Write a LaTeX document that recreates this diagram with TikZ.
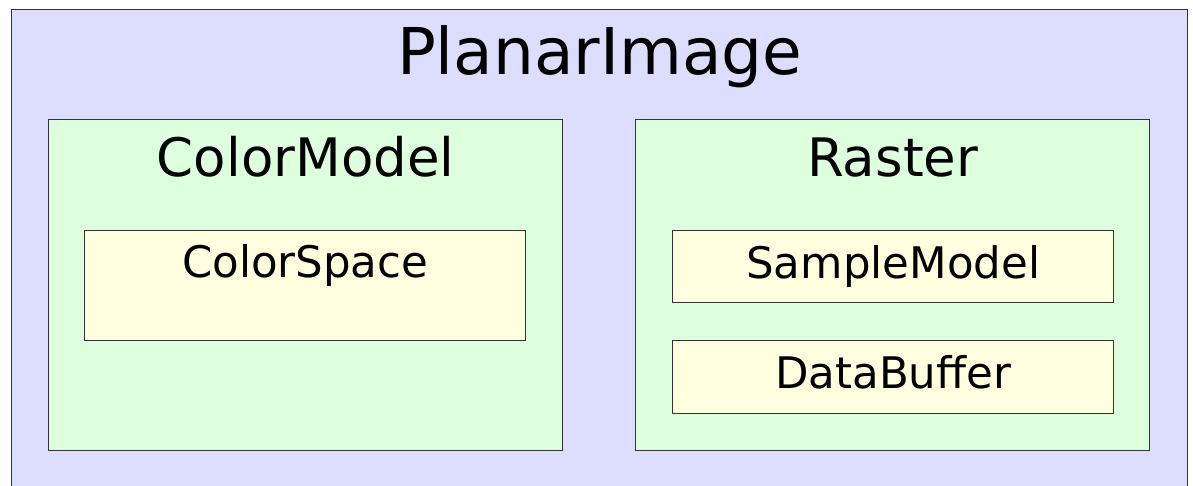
\documentclass[tikz,border=0pt]{standalone}
\usepackage{fontspec}
\setmainfont{DejaVu Sans}
\usetikzlibrary{positioning}

\definecolor{imgblue}{HTML}{DDDDFF}
\definecolor{partgreen}{HTML}{DDFFDD}
\definecolor{leafyellow}{HTML}{FFFFDF}

\tikzset{
  box/.style={draw=black!80,line width=1.4pt,anchor=north west,inner sep=0pt},
  big/.style={anchor=base,font=\fontsize{64.5}{72}\selectfont},
  mid/.style={anchor=base,font=\fontsize{53}{60}\selectfont},
  small/.style={anchor=base,font=\fontsize{43.5}{50}\selectfont}
}

\begin{document}
\begin{tikzpicture}[x=1pt,y=-1pt]
  \useasboundingbox (0,0) rectangle (1193,486);
  \node[box,fill=imgblue,minimum width=1176pt,minimum height=520pt] (planar) at (11,9) {};
  \node[big] (planartitle) at ([yshift=-66pt]planar.north) {PlanarImage};

  \node[box,fill=partgreen,minimum width=514pt,minimum height=331pt] (colormodel) at (48,119) {};
  \node[box,fill=partgreen,minimum width=514pt,minimum height=331pt] (raster) at (635,119) {};
  \node[mid] (cmtitle) at ([yshift=-58pt]colormodel.north) {ColorModel};
  \node[mid] (rastertitle) at ([yshift=-58pt]raster.north) {Raster};

  \node[box,fill=leafyellow,minimum width=441pt,minimum height=110pt] (colorspace) at (84,230) {};
  \node[box,fill=leafyellow,minimum width=441pt,minimum height=72pt] (samplemodel) at (672,230) {};
  \node[box,fill=leafyellow,minimum width=441pt,minimum height=73pt] (databuffer) at (672,340) {};
  \node[small] at ([yshift=-47pt]colorspace.north) {ColorSpace};
  \node[small] at ([yshift=-48pt]samplemodel.north) {SampleModel};
  \node[small] at ([yshift=-48pt]databuffer.north) {DataBuffer};
\end{tikzpicture}
\end{document}
